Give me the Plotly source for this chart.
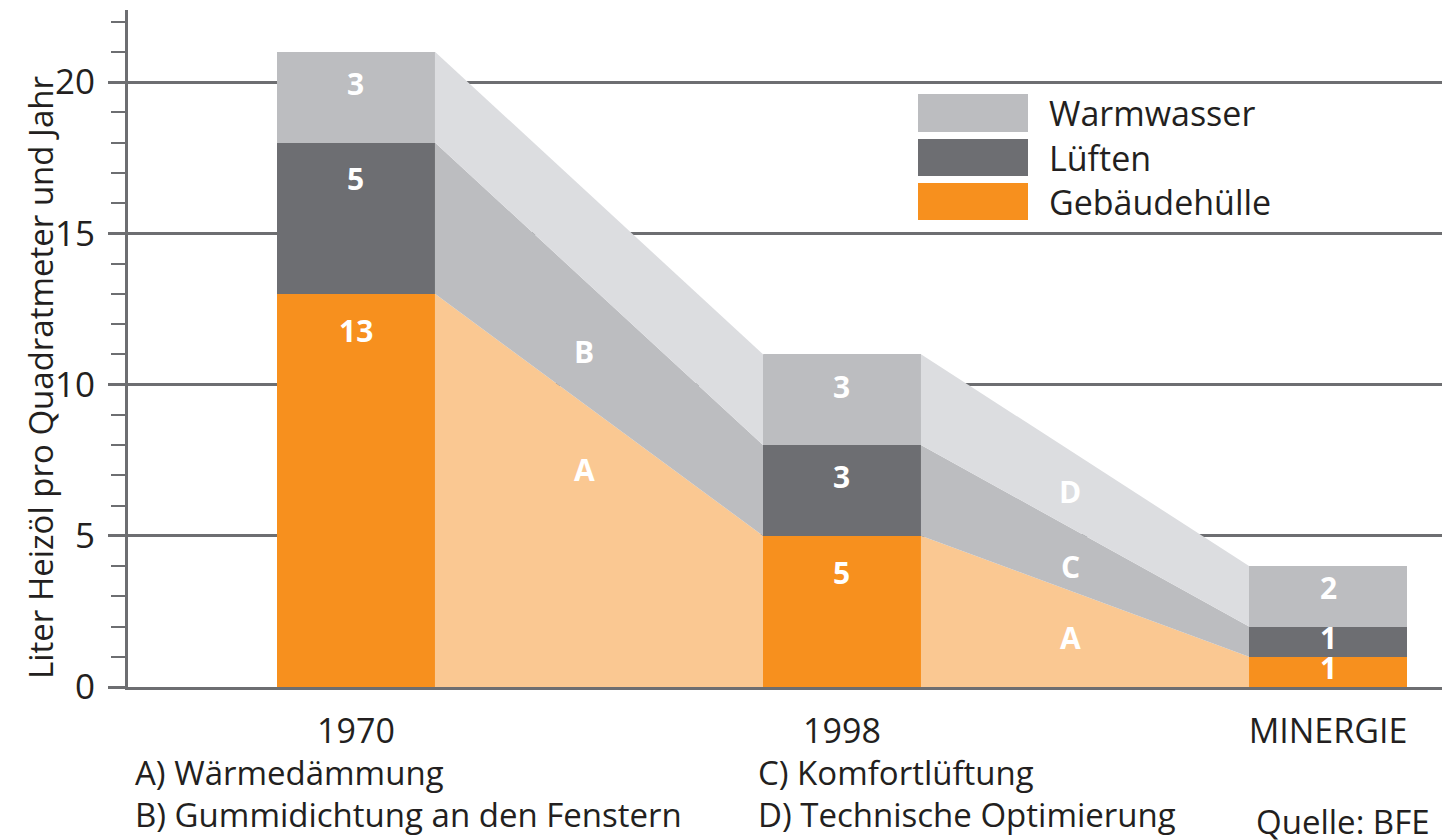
import plotly.graph_objects as go

# ---------------- data ----------------
categories = ["1970", "1998", "MINERGIE"]
series_names = ["Gebäudehülle", "Lüften", "Warmwasser"]
gebaeudehuelle = [13, 5, 1]
lueften = [5, 3, 1]
warmwasser = [3, 3, 2]

band_letters = ["A", "B", "A", "C", "D"]
band_letter_x = [0.47, 0.47, 1.47, 1.47, 1.47]
band_letter_y = [7.2, 11.1, 1.65, 4.0, 6.45]

notes_left = ["A) Wärmedämmung", "B) Gummidichtung an den Fenstern"]
notes_right = ["C) Komfortlüftung", "D) Technische Optimierung"]
source_text = "Quelle: BFE"
y_title = "Liter Heizöl pro Quadratmeter und Jahr"

# ---------------- style ----------------
FONT = "Open Sans"
TXT = "#231f20"
AXIS = "#6d6e71"
bar_colors = ["#f7901e", "#6d6e72", "#bcbdc0"]
band_colors = ["#fac892", "#bcbdc0", "#dcdde0"]
BAR_W = 0.325

series = [gebaeudehuelle, lueften, warmwasser]
xpos = list(range(len(categories)))

# cumulative tops
cum = []
run = [0] * len(categories)
for s in series:
    run = [a + b for a, b in zip(run, s)]
    cum.append(run[:])

fig = go.Figure()

# connecting bands between bars
for i in range(len(categories) - 1):
    xl = xpos[i] + BAR_W / 2
    xr = xpos[i + 1] - BAR_W / 2
    for k in range(len(series)):
        lo_l = 0 if k == 0 else cum[k - 1][i]
        lo_r = 0 if k == 0 else cum[k - 1][i + 1]
        hi_l = cum[k][i]
        hi_r = cum[k][i + 1]
        fig.add_trace(go.Scatter(
            x=[xl, xr, xr, xl, xl],
            y=[lo_l, lo_r, hi_r, hi_l, lo_l],
            fill="toself", fillcolor=band_colors[k],
            line=dict(width=0), mode="lines",
            hoverinfo="skip", showlegend=False))

# stacked bars
for k, s in enumerate(series):
    fig.add_trace(go.Bar(
        x=xpos, y=s, width=BAR_W, name=series_names[k],
        marker=dict(color=bar_colors[k], line=dict(width=0)),
        showlegend=False))

annotations = []
# value labels
for k, s in enumerate(series):
    for i, v in enumerate(s):
        top = cum[k][i]
        y = top - min(1.2, v * 0.35)
        annotations.append(dict(
            x=xpos[i], y=y, xref="x", yref="y", text=f"<b>{v}</b>",
            showarrow=False, font=dict(family=FONT, size=30, color="white")))

# band letters
for t, bx, by in zip(band_letters, band_letter_x, band_letter_y):
    annotations.append(dict(
        x=bx, y=by, xref="x", yref="y", text=f"<b>{t}</b>",
        showarrow=False, font=dict(family=FONT, size=30, color="white")))

# page body has an 8px margin: compensate so the screen layout matches
OFF = 8
W, H = 1450 - OFF, 840 - OFF
L, R, T, B = 128 - OFF, 0, 10 - OFF, 153
pw, ph = W - L - R, H - T - B
def px(x):
    return (x - OFF - L) / pw
def py(y):
    return (H - B - (y - OFF)) / ph

shapes = []
# legend (custom large swatches)
legend_rows = [("Warmwasser", bar_colors[2], 94, 132),
               ("Lüften", bar_colors[1], 139, 176),
               ("Gebäudehülle", bar_colors[0], 183, 220)]
for name, col, y0, y1 in legend_rows:
    shapes.append(dict(type="rect", xref="paper", yref="paper",
                       x0=px(918), x1=px(1028), y0=py(y1), y1=py(y0),
                       fillcolor=col, line=dict(width=0), layer="above"))
    annotations.append(dict(x=px(1047), y=py((y0 + y1) / 2), xref="paper", yref="paper",
                            text=name, showarrow=False, xanchor="left", yanchor="middle",
                            font=dict(family=FONT, size=34, color=TXT)))

# y title
annotations.append(dict(x=px(40), y=py(378), xref="paper", yref="paper",
                        text=y_title, textangle=-90, showarrow=False,
                        xanchor="center", yanchor="middle",
                        font=dict(family=FONT, size=33, color=TXT)))

# notes
for j, t in enumerate(notes_left):
    annotations.append(dict(x=px(133), y=py(772 + 43 * j), xref="paper", yref="paper",
                            text=t, showarrow=False, xanchor="left", yanchor="middle",
                            font=dict(family=FONT, size=33, color=TXT)))
for j, t in enumerate(notes_right):
    annotations.append(dict(x=px(756), y=py(772 + 43 * j), xref="paper", yref="paper",
                            text=t, showarrow=False, xanchor="left", yanchor="middle",
                            font=dict(family=FONT, size=33, color=TXT)))
annotations.append(dict(x=px(1254), y=py(821), xref="paper", yref="paper",
                        text=source_text, showarrow=False, xanchor="left", yanchor="middle",
                        font=dict(family=FONT, size=33, color=TXT)))

fig.update_layout(
    width=W, height=H, autosize=False,
    margin=dict(l=L, r=R, t=T, b=B, pad=0),
    paper_bgcolor="white", plot_bgcolor="white",
    barmode="stack", bargap=0,
    showlegend=False,
    font=dict(family=FONT, color=TXT),
    xaxis=dict(range=[-0.469, 2.251], tickvals=xpos, ticktext=categories,
               showgrid=False, zeroline=False, showline=True,
               linecolor=AXIS, linewidth=3, ticks="",
               tickfont=dict(family=FONT, size=34, color=TXT),
               ticklabelstandoff=12, fixedrange=True),
    yaxis=dict(range=[0, 22.38], tick0=0, dtick=5,
               showgrid=True, gridcolor=AXIS, gridwidth=3,
               zeroline=False, showline=True, linecolor=AXIS, linewidth=3,
               ticks="outside", ticklen=17, tickwidth=3, tickcolor=AXIS,
               minor=dict(dtick=1, ticks="outside", ticklen=14, tickwidth=2,
                          tickcolor=AXIS, showgrid=False),
               tickfont=dict(family=FONT, size=35, color=TXT),
               ticklabelstandoff=6, fixedrange=True),
    annotations=annotations,
    shapes=shapes,
)

fig.write_html("out.html")
